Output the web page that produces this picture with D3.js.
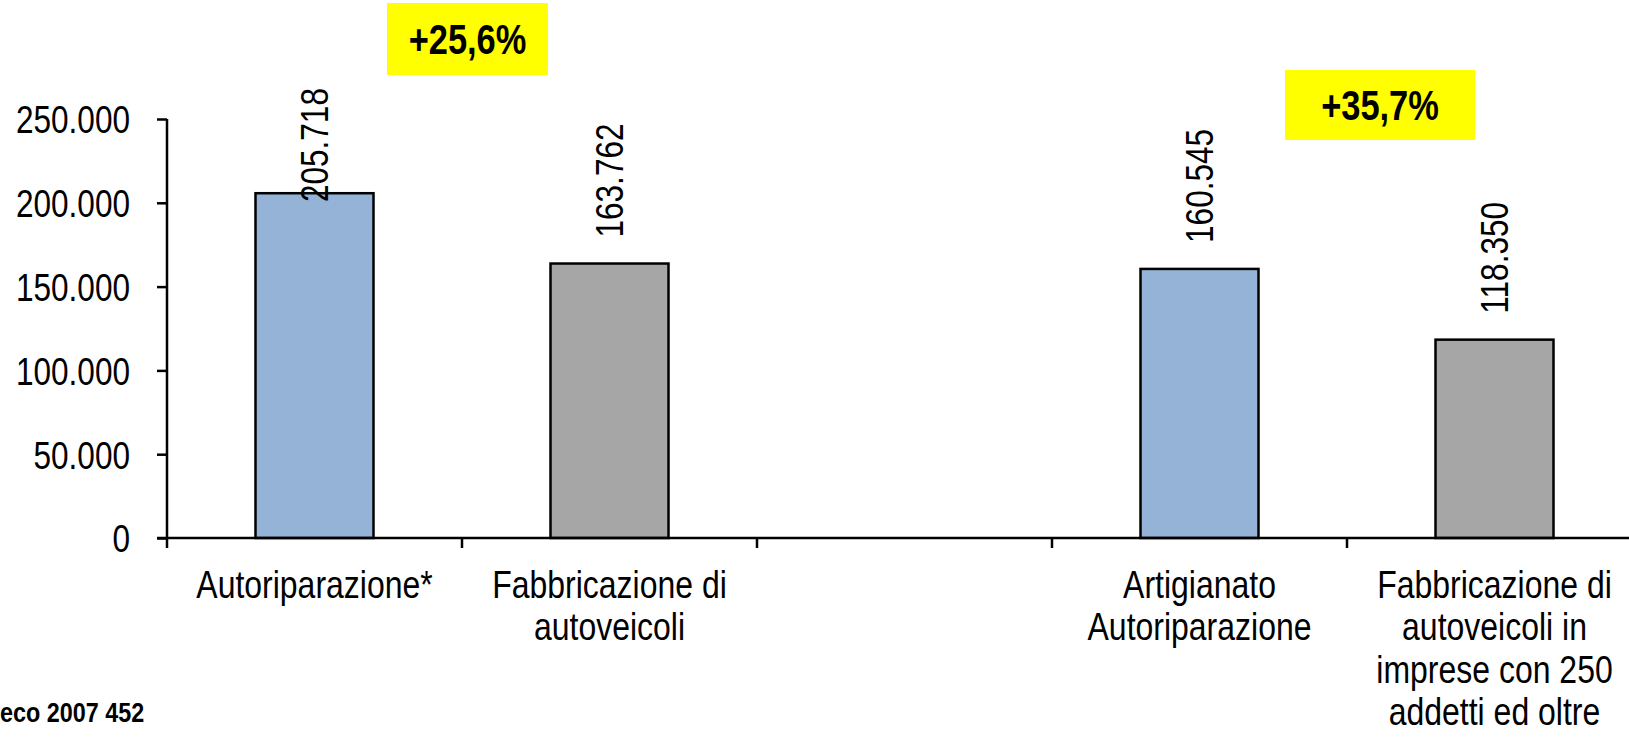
<!DOCTYPE html>
<html>
<head>
<meta charset="utf-8">
<script src="https://cdn.jsdelivr.net/npm/d3@7"></script>
<style>
  html, body { margin: 0; padding: 0; background: #fff; overflow: hidden; }
  svg { display: block; }
  text { font-family: "Liberation Sans", Arial, sans-serif; fill: #000; }
</style>
</head>
<body>
<svg id="chart" width="1629" height="740"></svg>
<script>
// ---- data ----
const categories = [
  "Autoriparazione*",
  "Fabbricazione di\nautoveicoli",
  "",
  "Artigianato\nAutoriparazione",
  "Fabbricazione di\nautoveicoli in\nimprese con 250\naddetti ed oltre"
];
const values = [205718, 163762, null, 160545, 118350];
const yTicks = [0, 50000, 100000, 150000, 200000, 250000];
const growthLabels = ["+25,6%", "+35,7%"];
const footnote = "eco 2007 452";

// ---- styles ----
const barColors = ["#95B3D7", "#A6A6A6", "none", "#95B3D7", "#A6A6A6"];
const NARROW = 0.82; // emulate Arial Narrow by horizontal compression

(function () {
const svg = d3.select("#chart");
const mLeft = 167, mRight = 1642, mTop = 119, mBottom = 538;

const it = d3.formatLocale({decimal: ",", thousands: ".", grouping: [3], currency: ["€", ""]});
const fmt = it.format(",d");

const x = d3.scaleBand().domain(d3.range(categories.length)).range([mLeft, mRight]).padding(0);
const y = d3.scaleLinear().domain([0, 250000]).range([mBottom, mTop]);

// bars
const barW = x.bandwidth() * 0.4;
svg.append("g").selectAll("rect")
  .data(values.map((v, i) => ({v, i})).filter(d => d.v != null))
  .join("rect")
  .attr("x", d => x(d.i) + x.bandwidth() / 2 - barW / 2)
  .attr("y", d => y(d.v))
  .attr("width", barW)
  .attr("height", d => y(0) - y(d.v))
  .attr("fill", d => barColors[d.i])
  .attr("stroke", "#000")
  .attr("stroke-width", 2.5);

// y axis
const tickLen = 10, tickPad = 27;
const yAxis = d3.axisLeft(y).tickValues(yTicks).tickFormat(fmt).tickSize(tickLen).tickPadding(tickPad);
const gy = svg.append("g").attr("transform", `translate(${mLeft},0)`).call(yAxis);
gy.attr("font-family", null).attr("font-size", null);
gy.select(".domain").attr("d", `M0,${mTop}V${mBottom}`).attr("stroke", "#000").attr("stroke-width", 2.5);
gy.selectAll(".tick line").attr("stroke", "#000").attr("stroke-width", 2.5);
gy.selectAll(".tick text")
  .attr("x", null).attr("dy", "0.36em")
  .attr("transform", `translate(${-(tickLen + tickPad)},0) scale(${NARROW},1)`)
  .attr("font-size", 38.5).attr("fill", "#000");

// x axis: line + boundary ticks
const gx = svg.append("g");
gx.append("line").attr("x1", mLeft - tickLen).attr("x2", mRight).attr("y1", mBottom).attr("y2", mBottom)
  .attr("stroke", "#000").attr("stroke-width", 2.5);
const bounds = d3.range(categories.length + 1).map(i => i < categories.length ? x(i) : x(categories.length - 1) + x.bandwidth());
gx.selectAll("line.tk").data(bounds).join("line").attr("class", "tk")
  .attr("x1", d => d).attr("x2", d => d).attr("y1", mBottom).attr("y2", mBottom + tickLen)
  .attr("stroke", "#000").attr("stroke-width", 2.5);

// category labels
const lineH = 42.5;
categories.forEach((c, i) => {
  if (!c) return;
  const t = svg.append("text")
    .attr("text-anchor", "middle")
    .attr("font-size", 39)
    .attr("transform", `translate(${x(i) + x.bandwidth() / 2},598) scale(${NARROW},1)`);
  c.split("\n").forEach((ln, k) => {
    t.append("tspan").attr("x", 0).attr("y", k * lineH).text(ln);
  });
});

// value labels (rotated), kept inside plot area top
const labelTopLimit = 88;
values.forEach((v, i) => {
  if (v == null) return;
  const cx = x(i) + x.bandwidth() / 2;
  const t = svg.append("text")
    .attr("font-size", 38.5)
    .attr("text-anchor", "start")
    .attr("dominant-baseline", "central")
    .text(fmt(v));
  const len = t.node().getComputedTextLength() * NARROW;
  const start = Math.max(y(v) - 26, labelTopLimit + len);
  t.attr("transform", `translate(${cx},${start}) rotate(-90) scale(${NARROW},1)`);
});

// growth annotations
const boxes = [
  {x0: 387, y0: 3, w: 161, h: 72},
  {x0: 1285, y0: 70, w: 190, h: 70}
];
growthLabels.forEach((g, i) => {
  const b = boxes[i];
  svg.append("rect").attr("x", b.x0).attr("y", b.y0).attr("width", b.w).attr("height", b.h).attr("fill", "#FFFF00");
  svg.append("text")
    .attr("transform", `translate(${b.x0 + b.w / 2},${b.y0 + b.h / 2}) scale(${NARROW},1)`)
    .attr("text-anchor", "middle").attr("dominant-baseline", "central")
    .attr("font-weight", "bold").attr("font-size", 42)
    .text(g);
});

// footnote (visible tail of the source line)
svg.append("text")
  .attr("transform", `translate(0,722) scale(${NARROW},1)`)
  .attr("text-anchor", "start")
  .attr("font-weight", "bold").attr("font-size", 28.5).text(footnote);
})();
</script>
</body>
</html>
